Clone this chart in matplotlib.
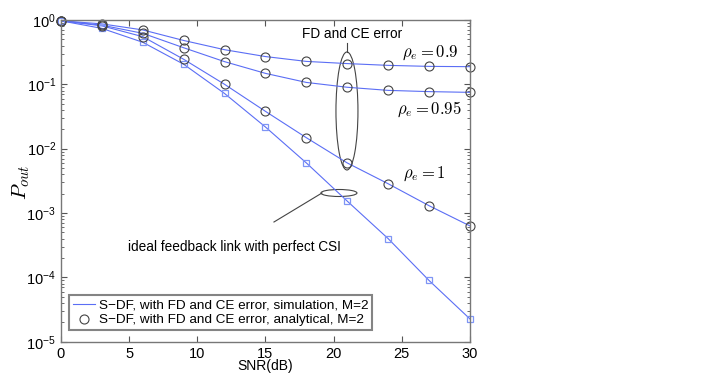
import matplotlib
matplotlib.use("Agg")
import matplotlib.pyplot as plt
from matplotlib.patches import Ellipse
from matplotlib.lines import Line2D

plt.rcParams['mathtext.fontset'] = 'cm'
plt.rcParams['font.family'] = ['Liberation Sans', 'DejaVu Sans']

snr = [0, 3, 6, 9, 12, 15, 18, 21, 24, 27, 30]
p_rho09 = [0.97, 0.87, 0.70, 0.48, 0.345, 0.27, 0.227, 0.21, 0.197, 0.19, 0.188]
p_rho095 = [0.97, 0.83, 0.62, 0.37, 0.225, 0.148, 0.107, 0.090, 0.0805, 0.077, 0.075]
p_rho1 = [0.97, 0.81, 0.55, 0.245, 0.100, 0.038, 0.0148, 0.0060, 0.00285, 0.0013, 0.00063]
p_ideal = [0.97, 0.74, 0.45, 0.205, 0.072, 0.0217, 0.0060, 0.00153, 0.00040, 0.0000895, 0.0000226]

line_c = '#5b6ef5'
sq_c = '#7f95f5'
circ_c = '#444444'

fig = plt.figure(figsize=(7.2, 3.9), dpi=100)
ax = fig.add_axes([0.0847, 0.1238, 0.568, 0.825])

for y in (p_rho09, p_rho095, p_rho1, p_ideal):
    ax.plot(snr, y, '-', color=line_c, lw=0.8)
ax.plot(snr, p_ideal, 's', mfc='none', mec=sq_c, ms=4.5, mew=0.9, clip_on=False)
for y in (p_rho09, p_rho095, p_rho1):
    ax.plot(snr, y, 'o', mfc='none', mec=circ_c, ms=6.5, mew=0.8, clip_on=False)

ax.set_yscale('log')
ax.set_xlim(0, 30)
ax.set_ylim(1e-5, 1)
ax.set_xticks([0, 5, 10, 15, 20, 25, 30])
ax.tick_params(which='both', direction='in', top=True, right=True, colors='#555555',
               labelcolor='black', labelsize=10.5)
ax.tick_params(which='major', length=4)
ax.tick_params(which='minor', length=2)
for s in ax.spines.values():
    s.set_color('#777777')
    s.set_linewidth(1.0)

ax.set_xlabel('SNR(dB)', fontsize=10, labelpad=-1)
ax.set_ylabel(r'$P_{out}$', fontsize=15)
ax.yaxis.set_label_coords(-0.072, 0.496)

h1 = Line2D([], [], color=line_c, lw=0.8)
h2 = Line2D([], [], ls='none', marker='o', mfc='none', mec=circ_c, ms=6.5, mew=0.8)
leg = ax.legend([h1, h2], ['S\u2212DF, with FD and CE error, simulation, M=2',
                           'S\u2212DF, with FD and CE error, analytical, M=2'],
                loc='lower left', bbox_to_anchor=(0.02, 0.035), fontsize=9.7,
                frameon=True, fancybox=False, borderpad=0.3, labelspacing=0.2,
                handlelength=1.6, handletextpad=0.3, borderaxespad=0)
leg.get_frame().set_edgecolor('#666666')
leg.get_frame().set_linewidth(1.5)

W = 409.0
H = 321.7
def fx(px):
    return (px - 61) / W
def fy(py):
    return 1 - (py - 20) / H

ax.add_patch(Ellipse((fx(347), fy(111)), 22 / W, 118 / H, transform=ax.transAxes,
                     fill=False, ec='#444444', lw=0.8))
ax.add_patch(Ellipse((fx(339), fy(193)), 36 / W, 7 / H, transform=ax.transAxes,
                     fill=False, ec='#444444', lw=0.8))
ax.plot([fx(347), fx(347)], [fy(43), fy(52)], transform=ax.transAxes, color='#444444', lw=0.8)
ax.plot([fx(322), fx(274)], [fy(193), fy(222)], transform=ax.transAxes, color='#444444', lw=0.8)
ax.text(fx(352), fy(34), 'FD and CE error', transform=ax.transAxes,
        ha='center', va='center', fontsize=9.8)
ax.text(fx(234), fy(247), 'ideal feedback link with perfect CSI',
        transform=ax.transAxes, ha='center', va='center', fontsize=9.8)
ax.text(fx(402), fy(53), r'$\rho_e = 0.9$', transform=ax.transAxes,
        ha='left', va='center', fontsize=12)
ax.text(fx(397), fy(109), r'$\rho_e = 0.95$', transform=ax.transAxes,
        ha='left', va='center', fontsize=12)
ax.text(fx(403), fy(174), r'$\rho_e = 1$', transform=ax.transAxes,
        ha='left', va='center', fontsize=12)

fig.savefig('out.png', dpi=100)
